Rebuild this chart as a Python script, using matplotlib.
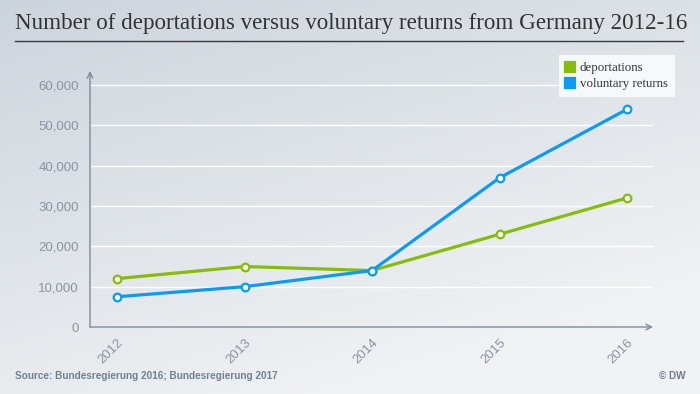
import numpy as np
import matplotlib
matplotlib.use("Agg")
import matplotlib.pyplot as plt
from matplotlib.colors import LinearSegmentedColormap

years = ["2012", "2013", "2014", "2015", "2016"]
deportations = [12000, 15000, 14000, 23000, 32000]
voluntary_returns = [7500, 10000, 14000, 37000, 54000]
y_ticks = [0, 10000, 20000, 30000, 40000, 50000, 60000]

GREEN = "#86bc0a"
BLUE = "#0a9cf5"
AXIS = "#7d8c9b"
TICK = "#8995a2"

fig = plt.figure(figsize=(7.0, 3.94), dpi=100)

# background gradient (darker top-left, lighter bottom-right)
bg = fig.add_axes([0, 0, 1, 1], zorder=-10)
yy, xx = np.mgrid[0:1:200j, 0:1:300j]
grad = np.clip(0.55 * yy + 0.3 * xx + 0.05, 0, 1)
cmap = LinearSegmentedColormap.from_list("bg", ["#cad2da", "#f0f2f4"])
bg.imshow(grad, cmap=cmap, aspect="auto", extent=[0, 1, 0, 1], origin="upper",
          vmin=0, vmax=0.75)
bg.axis("off")

# title + rule
fig.text(15 / 700, 1 - 24 / 394, "Number of deportations versus voluntary returns from Germany 2012-16",
         family="Liberation Serif", fontsize=16.6, color="#333333", va="center", ha="left")
fig.add_artist(plt.Line2D([15 / 700, 683 / 700], [1 - 41 / 394, 1 - 41 / 394],
                          color="#3a3a3a", lw=1.0))

ax = fig.add_axes([90 / 700, 1 - 327 / 394, (653 - 90) / 700, (327 - 71) / 394])
ax.patch.set_alpha(0)
x = np.arange(len(years))
ax.set_xlim(-0.212, 4.204)
ax.set_ylim(0, 63500)

for t in y_ticks[1:]:
    ax.axhline(t, color="white", lw=1.0, zorder=1)

ax.plot(x, deportations, color=GREEN, lw=2.3, marker="o", ms=5.5, mfc="white",
        mec=GREEN, mew=1.6, zorder=3, label="deportations")
ax.plot(x, voluntary_returns, color=BLUE, lw=2.3, marker="o", ms=5.5, mfc="white",
        mec=BLUE, mew=1.6, zorder=4, label="voluntary returns")

for s in ax.spines.values():
    s.set_visible(False)
ax.annotate("", xy=(0, 1.0), xytext=(0, 0), xycoords="axes fraction",
            arrowprops=dict(arrowstyle="->", color=AXIS, lw=1.0, shrinkA=0, shrinkB=0))
ax.annotate("", xy=(1.0, 0), xytext=(0, 0), xycoords="axes fraction",
            arrowprops=dict(arrowstyle="->", color=AXIS, lw=1.0, shrinkA=0, shrinkB=0))

ax.set_yticks(y_ticks)
ax.set_yticklabels([f"{v:,}" for v in y_ticks], family="Liberation Sans", fontsize=9.5, color=TICK)
ax.set_xticks(x)
ax.set_xticklabels(years, rotation=45, ha="right", rotation_mode="anchor",
                   family="Liberation Sans", fontsize=9.5, color=TICK)
ax.tick_params(length=0)
ax.tick_params(axis="y", pad=8)
ax.tick_params(axis="x", pad=7)

leg = ax.legend(loc="upper right", bbox_to_anchor=(675 / 700, 1 - 55 / 394),
                bbox_transform=fig.transFigure, frameon=True, fancybox=False,
                prop={"family": "Liberation Serif", "size": 9.3},
                handlelength=0.7, handleheight=0.7, handletextpad=0.4,
                borderpad=0.55, labelspacing=0.3, borderaxespad=0)
leg.get_frame().set_facecolor("#f7f8fa")
leg.get_frame().set_edgecolor("none")
leg.get_frame().set_alpha(1)
for h, c in zip(leg.legend_handles, [GREEN, BLUE]):
    h.set_marker("s")
    h.set_markersize(7)
    h.set_markerfacecolor(c)
    h.set_markeredgecolor(c)
    h.set_linestyle("none")
for t in leg.get_texts():
    t.set_color("#333333")

fig.text(15 / 700, 1 - 376 / 394, "Source: Bundesregierung 2016; Bundesregierung 2017",
         family="Liberation Sans", fontsize=7.2, weight="bold", color="#6f8093", va="center")
fig.text(686 / 700, 1 - 376 / 394, "© DW", family="Liberation Sans", fontsize=7.2,
         weight="bold", color="#6f8093", va="center", ha="right")

fig.savefig("out.png", dpi=100)
